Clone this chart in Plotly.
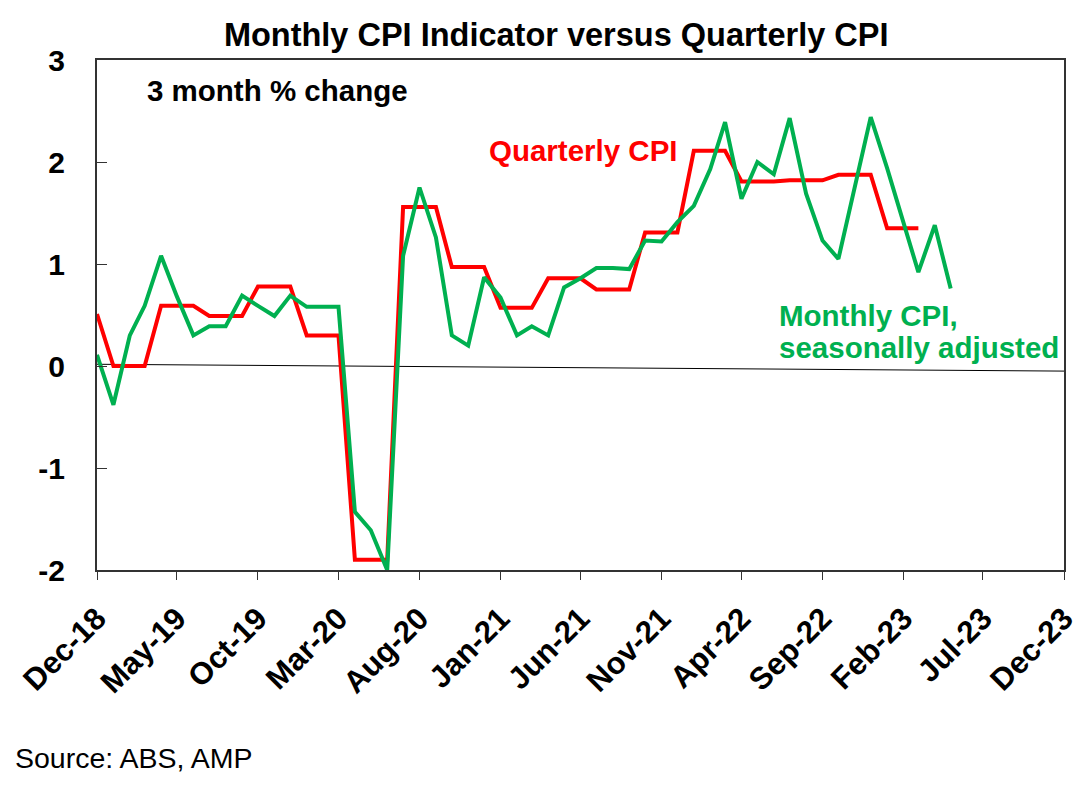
"""Monthly CPI indicator vs quarterly CPI, 3 month % change."""

import pandas as pd
import plotly.graph_objects as go

FONT = 'Arial, Liberation Sans, sans-serif'
GREEN = '#00B050'
RED = '#FF0000'

# monthly CPI indicator, seasonally adjusted (Dec-18 .. May-23)
monthly_start = '2018-12-01'
monthly_cpi = [0.11, -0.38, 0.30, 0.59, 1.08, 0.68, 0.30, 0.39, 0.39, 0.69,
               0.59, 0.49, 0.69, 0.58, 0.58, 0.58, -1.43, -1.61, -2.00, 1.08,
               1.75, 1.26, 0.30, 0.20, 0.87, 0.67, 0.30, 0.39, 0.30, 0.77,
               0.86, 0.96, 0.96, 0.95, 1.23, 1.22, 1.41, 1.57, 1.93, 2.39,
               1.64, 2.00, 1.88, 2.43, 1.69, 1.23, 1.05, 1.74, 2.44, 1.94,
               1.42, 0.92, 1.38, 0.76]

# quarterly CPI, shown against each month of its quarter (Dec-18 .. Mar-23)
quarterly_start = '2018-12-01'
quarterly_cpi = [0.51,
                 0.00, 0.00, 0.00, 0.59, 0.59, 0.59, 0.49, 0.49, 0.49,
                 0.78, 0.78, 0.78, 0.30, 0.30, 0.30, -1.90, -1.90, -1.90,
                 1.56, 1.56, 1.56, 0.97, 0.97, 0.97, 0.57, 0.57, 0.57,
                 0.86, 0.86, 0.86, 0.75, 0.75, 0.75, 1.31, 1.31, 1.31,
                 2.11, 2.11, 2.11, 1.81, 1.81, 1.81, 1.82, 1.82, 1.82,
                 1.875, 1.875, 1.875, 1.35, 1.35, 1.35]

y_ticks = [-2, -1, 0, 1, 2, 3]
y_ticktext = ['-2', '-1', '0', '1', '2', '3']

monthly_dates = pd.date_range(monthly_start, periods=len(monthly_cpi), freq='MS')
quarterly_dates = pd.date_range(quarterly_start, periods=len(quarterly_cpi), freq='MS')

fig = go.Figure()
fig.add_trace(go.Scatter(x=quarterly_dates, y=quarterly_cpi, mode='lines',
                         name='Quarterly CPI', line=dict(color=RED, width=4)))
fig.add_trace(go.Scatter(x=monthly_dates, y=monthly_cpi, mode='lines',
                         name='Monthly CPI, seasonally adjusted',
                         line=dict(color=GREEN, width=4)))

# thin zero line (slightly skewed in the original)
fig.add_shape(type='line', xref='paper', yref='y', x0=0, x1=1, y0=0.017, y1=-0.05,
              line=dict(color='black', width=1), layer='below')


def label(text, x, y, color, size=29.5, bold=True):
    fig.add_annotation(text=f'<b>{text}</b>' if bold else text, xref='paper',
                       yref='paper', x=x, y=y, xanchor='left', yanchor='middle',
                       showarrow=False, font=dict(family=FONT, size=size, color=color))


label('3 month % change', 0.0496, 0.941, 'black')
label('Quarterly CPI', 0.403, 0.8235, RED)
label('Monthly CPI,', 0.703, 0.50, GREEN)
label('seasonally adjusted', 0.703, 0.437, GREEN)
label('Source: ABS, AMP', -0.0869, -0.3686, 'black', size=28.5, bold=False)

fig.update_layout(
    width=1092, height=795,
    paper_bgcolor='white', plot_bgcolor='white',
    showlegend=False,
    margin=dict(l=89, r=36, t=52, b=233, autoexpand=False),
    title=dict(text='<b>Monthly CPI Indicator versus Quarterly CPI</b>',
               x=0.502, xanchor='center', y=0.966, yanchor='middle',
               font=dict(family=FONT, size=32.5, color='black')),
    font=dict(family=FONT, color='black'),
)
fig.update_xaxes(range=['2018-12-01', '2023-12-01'], tick0='2018-12-01', dtick='M5',
                 tickformat='%b-%y', tickangle=-45, ticks='outside', ticklen=8,
                 tickcolor='#333', showgrid=False, zeroline=False, automargin=False,
                 showline=True, linecolor='#333', linewidth=2, mirror=True,
                 ticklabelstandoff=8,
                 tickfont=dict(family=FONT, size=31, color='black', weight='bold'))
fig.update_yaxes(range=[-2, 3], tickvals=y_ticks, ticktext=y_ticktext, ticks='inside',
                 ticklen=10, tickcolor='#333', showgrid=False, zeroline=False,
                 showline=True, linecolor='#333', linewidth=2, mirror=True,
                 ticklabelstandoff=24, automargin=False,
                 tickfont=dict(family=FONT, size=30, color='black', weight='bold'))

fig.write_html('out.html')
